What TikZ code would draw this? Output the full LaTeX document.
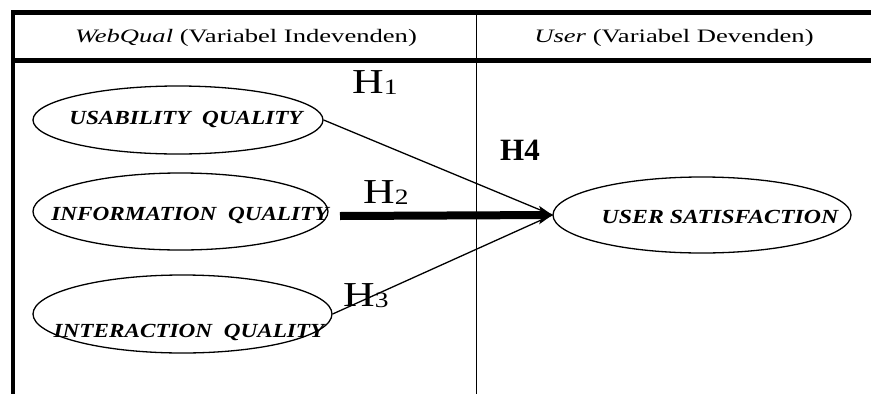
\documentclass[tikz,border=0pt]{standalone}
\usepackage{fontspec}
\setmainfont{Liberation Serif}
\usetikzlibrary{arrows.meta,shapes.geometric}
\newcommand{\wtext}[2]{\scalebox{#1}[1]{#2}}
\newcommand{\hsub}[1]{\raisebox{-1pt}{\fontsize{22}{23}\selectfont #1}}
\tikzset{
  frame/.style={line width=5pt},
  divider/.style={line width=1.4pt},
  construct/.style={draw, ellipse, line width=1.3pt, inner sep=0pt},
  ctext/.style={anchor=base, inner sep=0pt, font=\fontsize{20}{22}\selectfont\bfseries\itshape},
  head/.style={anchor=base, inner sep=0pt, font=\fontsize{19}{22}\selectfont},
  hyp/.style={anchor=base west, inner sep=0pt, font=\fontsize{35}{38}\selectfont},
  path1/.style={line width=1.3pt},
}
\begin{document}
\begin{tikzpicture}[x=1pt,y=-1pt]
\useasboundingbox (0,0) rectangle (871,394);
% table frame
\coordinate (tl) at (11,12);
\coordinate (tr) at (871,12);
\coordinate (bl) at (13,394);
\coordinate (sl) at (13,60);
\coordinate (sr) at (871,60);
\coordinate (vt) at (476.5,12);
\coordinate (vb) at (476.5,394);
\draw[frame] (tl) -- (tr);
\draw[line width=4pt] (13,10) -- (bl);
\draw[line width=5pt] (sl) -- (sr);
\draw[divider] (vt) -- (vb);
% headers
\node[head] (h1) at (246,42) {\wtext{1.4}{\textit{WebQual} (Variabel Indevenden)}};
\node[head] (h2) at (674,42) {\wtext{1.4}{\textit{User} (Variabel Devenden)}};
% constructs
\node[construct, minimum width=290pt, minimum height=68pt] (us) at (178,120) {};
\node[construct, minimum width=295pt, minimum height=77pt] (inf) at (180.5,211.5) {};
\node[construct, minimum width=299pt, minimum height=78pt] (int) at (182.5,314) {};
\node[construct, minimum width=298pt, minimum height=76pt] (sat) at (702,215) {};
\node[ctext] (tus) at (186,124) {\wtext{1.16}{USABILITY\ \ QUALITY}};
\node[ctext] (tinf) at (190,220) {\wtext{1.16}{INFORMATION\ \ QUALITY}};
\node[ctext] (tint) at (189,337) {\wtext{1.16}{INTERACTION\ \ QUALITY}};
\node[ctext] (tsat) at (720,223) {\wtext{1.19}{USER SATISFACTION}};
% paths
\coordinate (a2) at (340,216);
\draw[path1] (us.east) -- (sat.west);
\draw[path1] (int.east) -- (sat.west);
\draw[line width=8pt, -{Stealth[length=13pt,width=18pt,inset=3pt]}] (a2) -- (sat.west);
% hypothesis labels
\node[hyp] (H1) at (352,93) {\wtext{1.25}{H\hsub{1}}};
\node[hyp] (H2) at (363,203) {\wtext{1.25}{H\hsub{2}}};
\node[hyp] (H3) at (343,306) {\wtext{1.25}{H\hsub{3}}};
\node[anchor=base west, inner sep=0pt, font=\fontsize{31}{33}\selectfont\bfseries] (H4) at (500,160) {H4};
\end{tikzpicture}
\end{document}
